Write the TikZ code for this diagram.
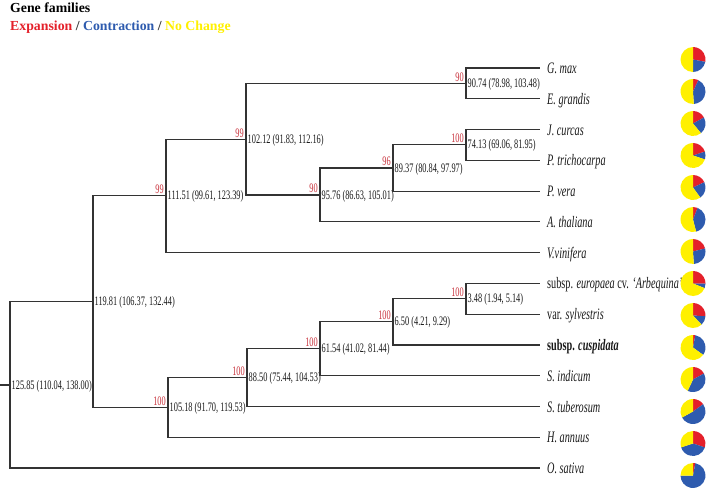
\documentclass[tikz,border=0pt]{standalone}
\usepackage{fontspec}
\setmainfont{Liberation Serif}
\newfontfamily\treefont{Liberation Serif}[FakeStretch=0.64]

\definecolor{expred}{HTML}{E4202A}
\definecolor{conblue}{HTML}{2E5BAE}
\definecolor{nocyellow}{HTML}{FFF000}
\definecolor{bootred}{HTML}{C8323C}

% one pie per species: centre, % expansion, % contraction
\newcommand{\genepie}[3]{%
  \pgfmathsetmacro{\redend}{-90+3.6*#2}%
  \pgfmathsetmacro{\blueend}{\redend+3.6*#3}%
  \fill[expred] (#1) -- ++(-90:12.5) arc[start angle=-90, end angle=\redend, radius=12.5] -- cycle;
  \fill[conblue] (#1) -- ++(\redend:12.5) arc[start angle=\redend, end angle=\blueend, radius=12.5] -- cycle;
  \fill[nocyellow] (#1) -- ++(\blueend:12.5) arc[start angle=\blueend, end angle=270, radius=12.5] -- cycle;
}

\tikzset{
  branch/.style={line width=1.1pt, draw=black!80},
  leaf/.style={anchor=west, inner xsep=7pt, inner ysep=0pt, text height=12pt, text depth=1pt,
    text=black!90, font=\treefont\fontsize{16}{16}\selectfont},
  age/.style={anchor=west, inner sep=1.5pt, text height=8pt, text depth=0pt,
    text=black!90, font=\treefont\fontsize{13}{13}\selectfont},
  boot/.style={anchor=south east, inner sep=2pt, text height=8pt, text depth=0pt,
    text=bootred, font=\treefont\fontsize{13}{13}\selectfont},
}

\begin{document}
\begin{tikzpicture}[x=1pt, y=-1pt]
          \useasboundingbox (0,0) rectangle (708,491);

          % Legend
          \node[anchor=base west, inner sep=0pt, font=\bfseries\fontsize{13.8}{14}\selectfont] (title) at (10,12) {Gene families};
          \node[anchor=base west, inner sep=0pt, font=\bfseries\fontsize{13.8}{14}\selectfont, text=black!80] (legend) at (10,30)
            {\textcolor{expred}{Expansion} / \textcolor{conblue}{Contraction} / \textcolor{nocyellow}{No Change}};

          % Leaves
          \node[leaf] (gmax) at (540, 68.0) {\textit{G. max}};
          \node[leaf] (egra) at (540, 98.8) {\textit{E. grandis}};
          \node[leaf] (jcur) at (540, 129.5) {\textit{J. curcas}};
          \node[leaf] (ptri) at (540, 160.3) {\textit{P. trichocarpa}};
          \node[leaf] (pver) at (540, 191.1) {\textit{P. vera}};
          \node[leaf] (atha) at (540, 221.9) {\textit{A. thaliana}};
          \node[leaf] (vvin) at (540, 252.6) {\textit{V.vinifera}};
          \node[leaf] (euro) at (540, 283.4) {subsp. \textit{europaea} cv. \textit{‘Arbequina’}};
          \node[leaf] (sylv) at (540, 314.2) {var. \textit{sylvestris}};
          \node[leaf] (cusp) at (540, 345.0) {\textbf{subsp. \textit{cuspidata}}};
          \node[leaf] (sind) at (540, 375.7) {\textit{S. indicum}};
          \node[leaf] (stub) at (540, 406.5) {\textit{S. tuberosum}};
          \node[leaf] (hann) at (540, 437.3) {\textit{H. annuus}};
          \node[leaf] (osat) at (540, 468.0) {\textit{O. sativa}};

          % Internal nodes
          \coordinate (base) at (0, 385);
          \coordinate (n12585) at (10, 385);
          \coordinate (n11981) at (93, 301.7);
          \coordinate (n11151) at (166, 195.9);
          \coordinate (n10212) at (246, 139.2);
          \coordinate (n9576) at (320, 195.0);
          \coordinate (n8937) at (393, 168.0);
          \coordinate (n9074) at (466, 83.4);
          \coordinate (n7413) at (466, 144.9);
          \coordinate (n10518) at (168, 407.5);
          \coordinate (n8850) at (247, 377.7);
          \coordinate (n6154) at (320, 348.8);
          \coordinate (n650) at (393, 321.9);
          \coordinate (n348) at (466, 298.8);

          % Divergence times
          \node[age] (t12585) at (n12585) {125.85 (110.04, 138.00)};
          \node[age] (t11981) at (n11981) {119.81 (106.37, 132.44)};
          \node[age] (t11151) at (n11151) {111.51 (99.61, 123.39)};
          \node[age] (t10212) at (n10212) {102.12 (91.83, 112.16)};
          \node[age] (t9576) at (n9576) {95.76 (86.63, 105.01)};
          \node[age] (t8937) at (n8937) {89.37 (80.84, 97.97)};
          \node[age] (t9074) at (n9074) {90.74 (78.98, 103.48)};
          \node[age] (t7413) at (n7413) {74.13 (69.06, 81.95)};
          \node[age] (t10518) at (n10518) {105.18 (91.70, 119.53)};
          \node[age] (t8850) at (n8850) {88.50 (75.44, 104.53)};
          \node[age] (t6154) at (n6154) {61.54 (41.02, 81.44)};
          \node[age] (t650) at (n650) {6.50 (4.21, 9.29)};
          \node[age] (t348) at (n348) {3.48 (1.94, 5.14)};

          % Bootstrap values
          \node[boot] (b11151) at (n11151) {99};
          \node[boot] (b10212) at (n10212) {99};
          \node[boot] (b9576) at (n9576) {90};
          \node[boot] (b8937) at (n8937) {96};
          \node[boot] (b9074) at (n9074) {90};
          \node[boot] (b7413) at (n7413) {100};
          \node[boot] (b10518) at (n10518) {100};
          \node[boot] (b8850) at (n8850) {100};
          \node[boot] (b6154) at (n6154) {100};
          \node[boot] (b650) at (n650) {100};
          \node[boot] (b348) at (n348) {100};

          % Branches
          \draw[branch] (base) -- (n12585);
          \draw[branch] (n12585) |- (n11981);
          \draw[branch] (n12585) |- (osat);
          \draw[branch] (n11981) |- (n11151);
          \draw[branch] (n11981) |- (n10518);
          \draw[branch] (n11151) |- (n10212);
          \draw[branch] (n11151) |- (vvin);
          \draw[branch] (n10212) |- (n9074);
          \draw[branch] (n10212) |- (n9576);
          \draw[branch] (n9074) |- (gmax);
          \draw[branch] (n9074) |- (egra);
          \draw[branch] (n9576) |- (n8937);
          \draw[branch] (n9576) |- (atha);
          \draw[branch] (n8937) |- (n7413);
          \draw[branch] (n8937) |- (pver);
          \draw[branch] (n7413) |- (jcur);
          \draw[branch] (n7413) |- (ptri);
          \draw[branch] (n10518) |- (n8850);
          \draw[branch] (n10518) |- (hann);
          \draw[branch] (n8850) |- (n6154);
          \draw[branch] (n8850) |- (stub);
          \draw[branch] (n6154) |- (n650);
          \draw[branch] (n6154) |- (sind);
          \draw[branch] (n650) |- (n348);
          \draw[branch] (n650) |- (cusp);
          \draw[branch] (n348) |- (euro);
          \draw[branch] (n348) |- (sylv);

          % Pies
          \coordinate (pgmax) at (693, 59.5);
          \coordinate (pegra) at (693, 91.5);
          \coordinate (pjcur) at (693, 123.5);
          \coordinate (pptri) at (693, 155.5);
          \coordinate (ppver) at (693, 187.5);
          \coordinate (patha) at (693, 219.5);
          \coordinate (pvvin) at (693, 251.5);
          \coordinate (peuro) at (693, 283.5);
          \coordinate (psylv) at (693, 315.5);
          \coordinate (pcusp) at (693, 347.5);
          \coordinate (psind) at (693, 379.5);
          \coordinate (pstub) at (693, 411.5);
          \coordinate (phann) at (693, 443.5);
          \coordinate (posat) at (693, 475.5);
          \genepie{pgmax}{28}{22}
          \genepie{pegra}{7}{42}
          \genepie{pjcur}{17}{22}
          \genepie{pptri}{20}{10}
          \genepie{ppver}{18}{22}
          \genepie{patha}{6}{40}
          \genepie{pvvin}{21}{28}
          \genepie{peuro}{25}{6}
          \genepie{psylv}{26}{12}
          \genepie{pcusp}{3}{32}
          \genepie{psind}{17}{40}
          \genepie{pstub}{15}{52}
          \genepie{phann}{30}{40}
          \genepie{posat}{3}{72}
        \end{tikzpicture}
\end{document}
